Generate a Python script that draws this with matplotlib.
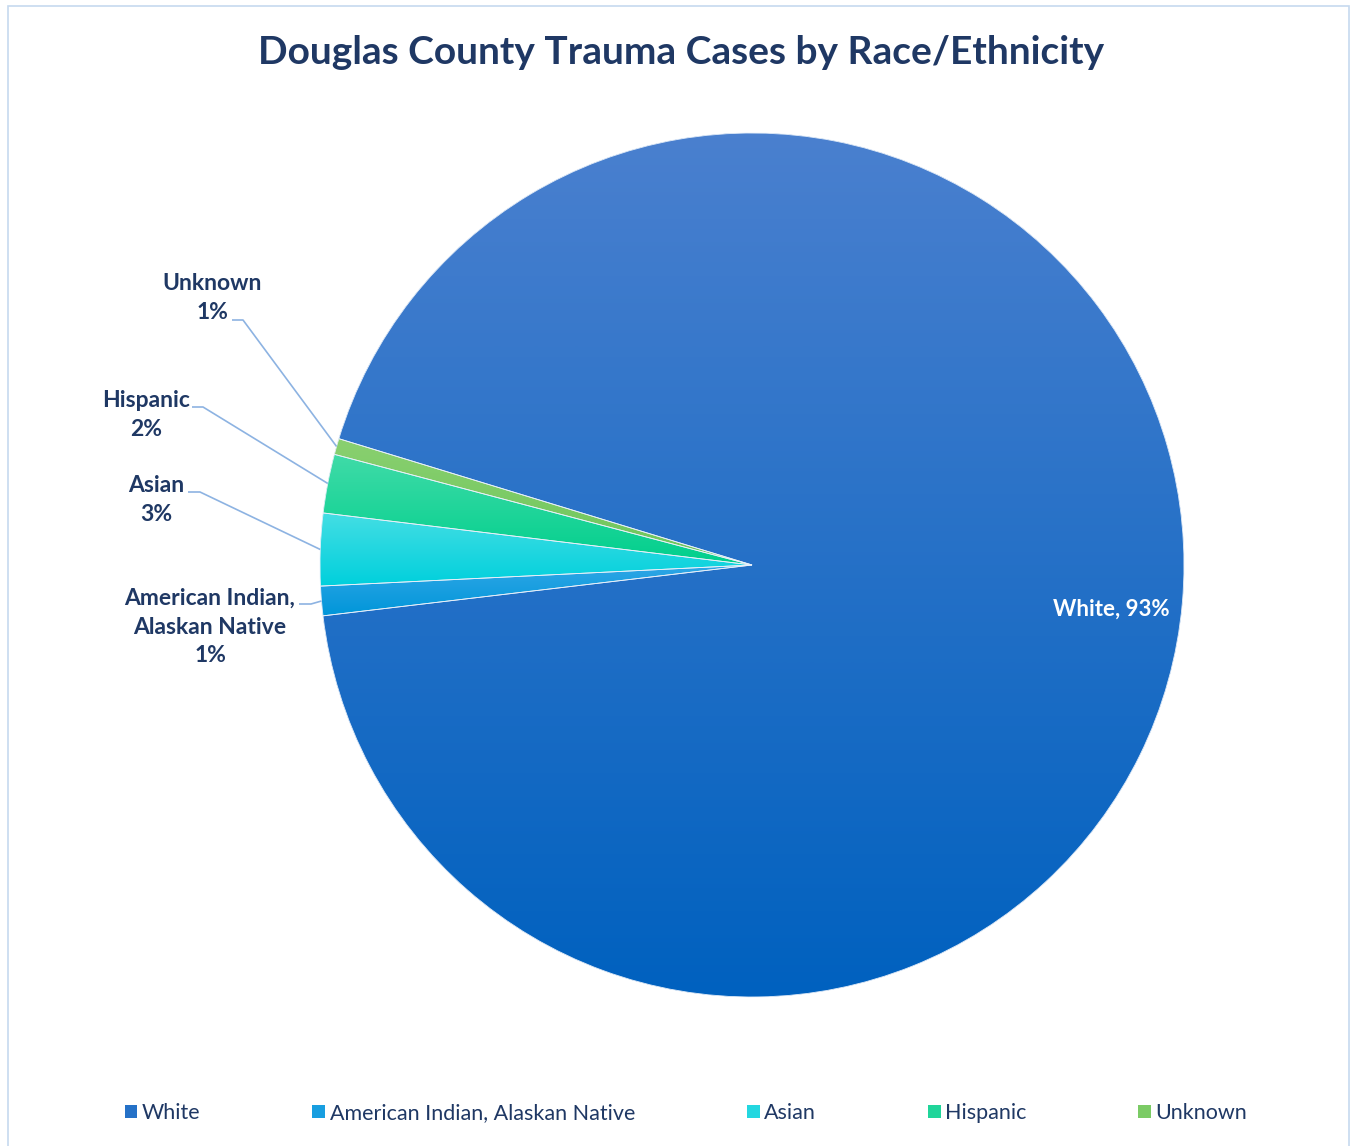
import numpy as np
import matplotlib
matplotlib.use('Agg')
import matplotlib.pyplot as plt
from matplotlib.colors import LinearSegmentedColormap
from matplotlib.patches import Wedge, Rectangle, Patch

plt.rcParams['font.family'] = ['Lato', 'DejaVu Sans']

groups = ['White', 'American Indian, Alaskan Native', 'Asian', 'Hispanic', 'Unknown']
share = [93.4, 1.1, 2.7, 2.2, 0.6]
# (top, bottom) of each slice's vertical gradient
shades = [('#4a80cf', '#0061bf'), ('#2fa6e6', '#0096d9'), ('#45dee4', '#00d0dc'),
          ('#40dba8', '#00cf8c'), ('#8ad070', '#6cc55a')]

navy = '#1f3864'
W, H = 1351, 1146
fig = plt.figure(figsize=(W / 100, H / 100), dpi=100)
ax = fig.add_axes([0, 0, 1, 1])

cx, cy, R = 752, H - 565, 432
wedges, _ = ax.pie(share, startangle=163, counterclock=False, center=(cx, cy), radius=R,
                   wedgeprops=dict(linewidth=0))

grad = np.linspace(0, 1, 256).reshape(-1, 1)
for w, (top, bot) in zip(wedges, shades):
    cmap = LinearSegmentedColormap.from_list('fill', [bot, top])
    w.set_facecolor(cmap(0.5))
    w.set_zorder(1)
    ext = w.get_path().get_extents()
    im = ax.imshow(grad, cmap=cmap, extent=[ext.x0, ext.x1, ext.y0, ext.y1], origin='lower',
                   aspect='auto', interpolation='bilinear', zorder=1.5)
    im.set_clip_path(w)
    # thin light seam between slices
    ax.add_patch(Wedge((cx, cy), R, w.theta1, w.theta2, facecolor='none',
                       edgecolor='#e8f0fa', linewidth=0.6, zorder=2))

total = sum(share)
pcts = [round(v / total * 100) for v in share]

# White label sits inside its slice
ax.text(1111, H - 609, f'{groups[0]}, {pcts[0]}%', color='white', fontsize=16,
        fontweight='bold', ha='center', va='center', zorder=4)

# outside labels: text centre, then the short horizontal stub of the leader
outside = {
    1: ((210, 627), (299, 604), (311, 604)),
    2: ((156, 500), (188, 492), (200, 492)),
    3: ((146, 415), (192, 407), (203, 407)),
    4: ((212, 298), (232, 320), (243, 320)),
}
for i, (tpos, p0, p1) in outside.items():
    w = wedges[i]
    mid = np.deg2rad((w.theta1 + w.theta2) / 2)
    ex, ey = cx + R * np.cos(mid), cy + R * np.sin(mid)
    ax.plot([p0[0], p1[0], ex], [H - p0[1], H - p1[1], ey], color='#8db3e2', lw=1.2,
            zorder=3, solid_capstyle='butt')
    name = groups[i].replace(', ', ',\n')
    ax.text(tpos[0], H - tpos[1], f'{name}\n{pcts[i]}%', color=navy, fontsize=16.5,
            fontweight='bold', ha='center', va='center', linespacing=1.45, zorder=4)

ax.text(681, H - 53, 'Douglas County Trauma Cases by Race/Ethnicity', color=navy,
        fontsize=28, fontweight='bold', ha='center', va='center')

# chart frame (bottom edge runs off the page)
ax.add_patch(Rectangle((8, -20), W - 10, H - 6 + 20, facecolor='none',
                       edgecolor='#c6d9ef', linewidth=1.2, zorder=0))

handles = [Patch(facecolor=LinearSegmentedColormap.from_list('l', [b, t])(0.5), label=g)
           for g, (t, b) in zip(groups, shades)]
fig.legend(handles=handles, loc='center', bbox_to_anchor=(686 / W, (H - 1113) / H), ncol=5,
           frameon=False, fontsize=15.5, handlelength=0.6, handleheight=0.6,
           handletextpad=0.2, columnspacing=5.2, labelcolor=navy)

ax.set_xlim(0, W)
ax.set_ylim(0, H)
ax.set_aspect('auto')
ax.set_axis_off()
fig.savefig('out.png', dpi=100)
